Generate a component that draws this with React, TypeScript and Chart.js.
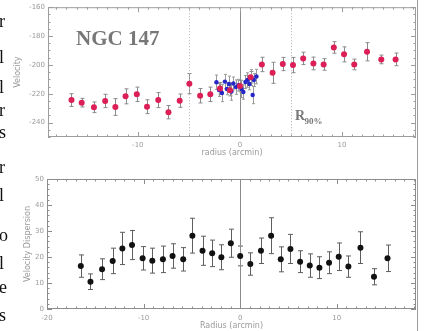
import React, { useEffect, useRef } from 'react';
import { Chart, registerables } from 'chart.js';

Chart.register(...registerables);

// ---- data ----
const RADIUS = [-16.5, -15.5, -14.3, -13.2, -12.2, -11.2, -10.1, -9.1, -8.0, -7.0, -5.9, -4.95, -3.9, -2.9, -1.95, -0.97, 0.0, 1.05, 2.15, 3.2, 4.2, 5.2, 6.2, 7.2, 8.2, 9.2, 10.2, 11.2, 12.45, 13.85, 15.25];
const VELOCITY = [-224.4, -226.2, -229.4, -225, -229.2, -221.8, -220.4, -229, -224.4, -232.8, -224.8, -213, -221.4, -220.4, -216.3, -217.5, -214.7, -208.6, -199.7, -205.5, -199.4, -200.1, -195.5, -199, -199.7, -187.9, -192.7, -199.7, -190.9, -196.2, -196.2];
const VELOCITY_ERR = [4.4, 3, 3.7, 4.6, 5.8, 5.2, 5, 4.8, 5.2, 4.6, 4.6, 7, 5, 5, 4, 4, 4, 4, 5, 7.3, 4.6, 5.3, 4.3, 4.4, 4, 4, 5.2, 3.7, 6.3, 3, 4.4];

const INNER_RADIUS = [-2.3, -2.05, -1.76, -1.47, -1.27, -1.08, -0.83, -0.64, -0.4, -0.15, 0.15, 0.34, 0.54, 0.74, 0.93, 1.13, 1.25, 1.37, 1.62];
const INNER_VELOCITY = [-212, -217.4, -219.5, -211.6, -216.7, -213.3, -218.5, -212.9, -215.4, -214, -216.7, -218.8, -211.9, -210.5, -213.3, -208.8, -220.9, -210.5, -208.1];
const INNER_VELOCITY_ERR = [5, 4.5, 6, 5, 4, 5.5, 6, 4.5, 5, 4, 6, 5, 4.5, 5, 4, 5.5, 6, 4.5, 5];

const DISPERSION = [16.5, 10.5, 15.3, 18.5, 23.3, 24.6, 19.5, 18.6, 19.1, 20.4, 19.1, 28.2, 22.4, 21.4, 19.9, 25.3, 20.4, 17.3, 22.4, 28.2, 19.1, 23.1, 18.2, 16.7, 15.9, 17.8, 20.1, 16.3, 23.6, 12.4, 19.5];
const DISPERSION_ERR = [4.3, 3, 4, 4.9, 6.2, 5.6, 4.5, 4.8, 5.1, 4.7, 4.5, 6.7, 5.6, 5.1, 4.8, 5.4, 3.8, 4.3, 4.9, 6.9, 4.8, 5.6, 4.2, 4.5, 4.2, 4.2, 5.3, 4.1, 6.1, 3.1, 5.1];

const TOP_X_TICKS = [-10, 0, 10];
const TOP_Y_TICKS = [-240, -220, -200, -180, -160];
const BOT_X_TICKS = [-20, -10, 0, 10];
const BOT_Y_TICKS = [0, 10, 20, 30, 40, 50];
const R90 = [-5, 5];

const PAGE_LETTERS = [
  { t: 'r', y: 22 }, { t: 'l', y: 58 }, { t: 'l', y: 88 }, { t: 'r', y: 111 },
  { t: 's', y: 133 }, { t: 'r', y: 168 }, { t: 'l', y: 196 }, { t: 'o', y: 236 },
  { t: 'l', y: 264 }, { t: 'e', y: 288 }, { t: 's', y: 316 },
];

const TICK_FONT = { size: 7, family: 'DejaVu Sans' };
const TITLE_FONT = { size: 8, family: 'DejaVu Sans' };
const GREY = '#9a9a9a';

const errorBarPlugin = {
  id: 'errbars',
  beforeDatasetsDraw(chart: any) {
    const { ctx, scales } = chart;
    const x = scales.x, y = scales.y;
    chart.data.datasets.forEach((ds: any) => {
      if (!ds.errors) return;
      ctx.save();
      ctx.strokeStyle = ds.errorColor;
      ctx.lineWidth = 1;
      const cap = ds.capWidth;
      ds.data.forEach((p: any, j: number) => {
        const px = Math.round(x.getPixelForValue(p.x)) + 0.5;
        const y1 = y.getPixelForValue(p.y - ds.errors[j]);
        const y2 = y.getPixelForValue(p.y + ds.errors[j]);
        ctx.beginPath();
        ctx.moveTo(px, y1); ctx.lineTo(px, y2);
        ctx.moveTo(px - cap, y1); ctx.lineTo(px + cap, y1);
        ctx.moveTo(px - cap, y2); ctx.lineTo(px + cap, y2);
        ctx.stroke();
      });
      ctx.restore();
    });
  },
};

const framePlugin = {
  id: 'frame',
  beforeDatasetsDraw(chart: any, _args: any, o: any) {
    const { ctx, chartArea, scales } = chart;
    const { left, right, top, bottom } = chartArea;
    const x = scales.x, y = scales.y;
    ctx.save();
    ctx.lineWidth = 1;
    // vertical reference lines
    (o.solid || []).forEach((v: number) => {
      const px = Math.round(x.getPixelForValue(v)) + 0.5;
      ctx.strokeStyle = '#8c8c8c';
      ctx.setLineDash([]);
      ctx.beginPath(); ctx.moveTo(px, top); ctx.lineTo(px, bottom); ctx.stroke();
    });
    (o.dotted || []).forEach((v: number) => {
      const px = Math.round(x.getPixelForValue(v)) + 0.5;
      ctx.strokeStyle = '#b0b0b0';
      ctx.setLineDash([1, 2]);
      ctx.beginPath(); ctx.moveTo(px, top); ctx.lineTo(px, bottom); ctx.stroke();
    });
    ctx.setLineDash([]);
    ctx.strokeStyle = o.color;
    ctx.strokeRect(left + 0.5, top + 0.5, right - left - 1, bottom - top - 1);
    // inward ticks
    ctx.beginPath();
    const xs = Math.ceil(x.min / o.xMinor) * o.xMinor;
    for (let v = xs; v <= x.max + 1e-9; v += o.xMinor) {
      const px = Math.round(x.getPixelForValue(v)) + 0.5;
      const major = Math.abs(v / o.xMajor - Math.round(v / o.xMajor)) < 1e-6;
      const len = major ? 5 : 2.5;
      ctx.moveTo(px, bottom); ctx.lineTo(px, bottom - len);
      ctx.moveTo(px, top); ctx.lineTo(px, top + len);
    }
    const ys = Math.ceil(y.min / o.yMinor) * o.yMinor;
    for (let v = ys; v <= y.max + 1e-9; v += o.yMinor) {
      const py = Math.round(y.getPixelForValue(v)) + 0.5;
      const major = Math.abs(v / o.yMajor - Math.round(v / o.yMajor)) < 1e-6;
      const len = major ? 5 : 2.5;
      ctx.moveTo(left, py); ctx.lineTo(left + len, py);
      ctx.moveTo(right, py); ctx.lineTo(right - len, py);
    }
    ctx.stroke();
    ctx.restore();
  },
  afterDraw(chart: any, _args: any, o: any) {
    if (!o.labels) return;
    const { ctx, chartArea } = chart;
    ctx.save();
    ctx.fillStyle = '#777';
    ctx.textBaseline = 'alphabetic';
    o.labels.forEach((l: any) => {
      ctx.font = `bold ${l.size}px "Liberation Serif", serif`;
      ctx.fillText(l.text, chartArea.left + l.dx, chartArea.top + l.dy);
    });
    ctx.restore();
  },
};

function baseAxes(xMin: number, xMax: number, xTicks: number[], yMin: number, yMax: number, yTicks: number[], xTitle: string, yTitle: string, yAxisWidth: number, xAxisHeight: number, yTitlePad: number, xTitlePad: number, xTickPad: number) {
  return {
    x: {
      type: 'linear',
      min: xMin, max: xMax,
      grid: { display: false, drawTicks: false },
      border: { display: false },
      afterBuildTicks: (s: any) => { s.ticks = xTicks.map((v) => ({ value: v })); },
      afterFit: (s: any) => { s.height = xAxisHeight; },
      ticks: { padding: xTickPad, color: GREY, font: TICK_FONT, maxRotation: 0, autoSkip: false },
      title: { display: true, text: xTitle, color: GREY, font: TITLE_FONT, padding: { top: 0, bottom: xTitlePad } },
    },
    y: {
      type: 'linear',
      min: yMin, max: yMax,
      grid: { display: false, drawTicks: false },
      border: { display: false },
      afterBuildTicks: (s: any) => { s.ticks = yTicks.map((v) => ({ value: v })); },
      afterFit: (s: any) => { s.width = yAxisWidth; },
      ticks: { padding: 3, color: GREY, font: TICK_FONT, autoSkip: false },
      title: { display: true, text: yTitle, color: GREY, font: TITLE_FONT, padding: { top: yTitlePad, bottom: 0 } },
    },
  };
}

export default function App() {
  const topRef = useRef<HTMLCanvasElement>(null);
  const botRef = useRef<HTMLCanvasElement>(null);

  useEffect(() => {
    const top = new Chart(topRef.current as HTMLCanvasElement, {
      type: 'scatter',
      data: {
        datasets: [
          {
            data: RADIUS.map((r, i) => ({ x: r, y: VELOCITY[i] })),
            errors: VELOCITY_ERR, errorColor: '#8a8a8a', capWidth: 2,
            pointRadius: 3, pointBackgroundColor: '#dc1f57', pointBorderWidth: 0, showLine: false,
          } as any,
          {
            data: INNER_RADIUS.map((r, i) => ({ x: r, y: INNER_VELOCITY[i] })),
            errors: INNER_VELOCITY_ERR, errorColor: '#9a9a9a', capWidth: 1.5,
            pointRadius: 2.2, pointBackgroundColor: '#2626c8', pointBorderWidth: 0, showLine: false,
          } as any,
        ],
      },
      options: {
        animation: false,
        responsive: false,
        layout: { padding: { top: 6, right: 8, left: 0, bottom: 0 } },
        plugins: {
          legend: { display: false },
          tooltip: { enabled: false },
          frame: {
            color: '#9c9c9c', xMinor: 1, xMajor: 10, yMinor: 5, yMajor: 20,
            solid: [0], dotted: R90,
            labels: [
              { text: 'NGC 147', size: 21, dx: 28, dy: 38 },
              { text: 'R', size: 14, dx: 247, dy: 113 },
              { text: '90%', size: 9, dx: 256.5, dy: 116.5 },
            ],
          },
        } as any,
        scales: baseAxes(-18.8, 17.25, TOP_X_TICKS, -250, -160, TOP_Y_TICKS, 'radius (arcmin)', 'Velocity', 48, 28, 13, 7, 4) as any,
      },
      plugins: [errorBarPlugin, framePlugin],
    });

    const bot = new Chart(botRef.current as HTMLCanvasElement, {
      type: 'scatter',
      data: {
        datasets: [
          {
            data: RADIUS.map((r, i) => ({ x: r, y: DISPERSION[i] })),
            errors: DISPERSION_ERR, errorColor: '#5e5e5e', capWidth: 2.5,
            pointRadius: 3, pointBackgroundColor: '#111', pointBorderWidth: 0, showLine: false,
          } as any,
        ],
      },
      options: {
        animation: false,
        responsive: false,
        layout: { padding: { top: 14, right: 8, left: 0, bottom: 0 } },
        plugins: {
          legend: { display: false },
          tooltip: { enabled: false },
          frame: { color: '#8c8c8c', xMinor: 1, xMajor: 10, yMinor: 2, yMajor: 10, solid: [0], dotted: [] },
        } as any,
        scales: baseAxes(-20, 18.2, BOT_X_TICKS, 0, 50, BOT_Y_TICKS, 'Radius (arcmin)', 'Velocity Dispersion', 47, 22, 23, 0, 5) as any,
      },
      plugins: [errorBarPlugin, framePlugin],
    });

    return () => { top.destroy(); bot.destroy(); };
  }, []);

  return (
    <div style={{ position: 'fixed', left: 0, top: 0, width: 424, height: 331, background: '#fff', overflow: 'hidden' }}>
      <canvas ref={topRef} width={424} height={165} style={{ position: 'absolute', left: 0, top: 0 }} />
      <canvas ref={botRef} width={424} height={166} style={{ position: 'absolute', left: 0, top: 165 }} />
      <div style={{ position: 'absolute', left: 417, top: 0, width: 1, height: 331, background: '#9c9c9c' }} />
      {PAGE_LETTERS.map((l, i) => (
        <span key={i} style={{ position: 'absolute', left: -1, top: l.y - 11, fontFamily: '"Liberation Serif", serif', fontSize: 18, lineHeight: '20px', color: '#111' }}>{l.t}</span>
      ))}
    </div>
  );
}
